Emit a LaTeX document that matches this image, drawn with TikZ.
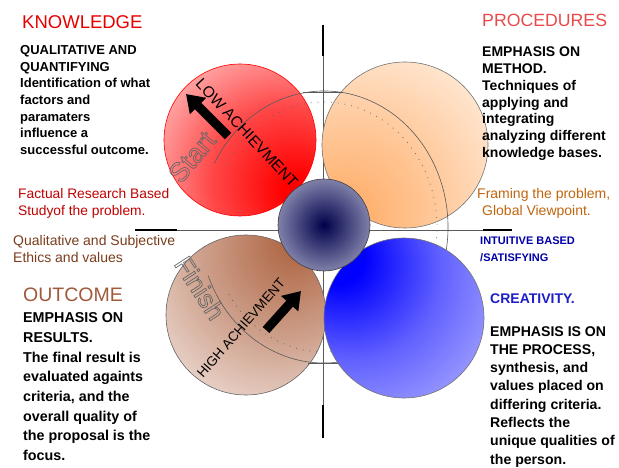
\documentclass[tikz,border=0pt]{standalone}
\usepackage{fontspec}
\setmainfont{Liberation Sans}
\usetikzlibrary{arrows.meta}

\definecolor{knowred}{HTML}{E60000}
\definecolor{procred}{HTML}{E84A4A}
\definecolor{factred}{HTML}{C00000}
\definecolor{ethicbrown}{HTML}{7A3C1C}
\definecolor{frameorange}{HTML}{C0650E}
\definecolor{intuitblue}{HTML}{0000A8}
\definecolor{outcbrown}{HTML}{A0583A}
\definecolor{creablue}{HTML}{1E1EC8}
\definecolor{peach}{HTML}{FFAE6A}
\definecolor{peachlight}{HTML}{FFF4EA}
\definecolor{clay}{HTML}{B26C4C}
\definecolor{claylight}{HTML}{F7EEEA}
\definecolor{navy}{HTML}{00004A}
\definecolor{navylight}{HTML}{CCCEE2}

\pgfdeclareradialshading{redball}{\pgfpoint{20bp}{-18bp}}{color(0bp)=(red); color(5bp)=(red); color(25bp)=(red!72); color(52bp)=(red!15); color(110bp)=(red!15)}
\pgfdeclareradialshading{peachball}{\pgfpoint{-20bp}{-24bp}}{color(0bp)=(peach); color(5bp)=(peach); color(26bp)=(peach!60!peachlight); color(54bp)=(peachlight); color(110bp)=(peachlight)}
\pgfdeclareradialshading{clayball}{\pgfpoint{16bp}{24bp}}{color(0bp)=(clay); color(5bp)=(clay); color(26bp)=(clay!60!claylight); color(54bp)=(claylight); color(110bp)=(claylight)}
\pgfdeclareradialshading{blueball}{\pgfpoint{-22bp}{20bp}}{color(0bp)=(blue); color(8bp)=(blue); color(28bp)=(blue!62); color(52bp)=(blue!30); color(110bp)=(blue!30)}
\pgfdeclareradialshading{coreball}{\pgfpoint{0bp}{0bp}}{color(0bp)=(navy); color(40bp)=(navylight); color(60bp)=(navylight)}

\newcommand{\hollow}[1]{\special{pdf:literal direct 1 Tr 0.7 w}#1\special{pdf:literal direct 0 Tr}}

\begin{document}
\begin{tikzpicture}[
    x=1pt, y=-1pt,
    ball/.style={circle, draw=#1, line width=0.6pt, inner sep=0pt, shade},
    axisline/.style={draw=gray!70!black, line width=0.6pt},
    axisend/.style={draw=black, line width=2.2pt},
    orbit/.style={draw=black!65, line width=0.6pt},
    orbitdots/.style={draw=black!60, line width=0.8pt, dash pattern=on 0.8pt off 6pt},
    bigarrow/.style={-{Triangle[width=22pt, length=17pt]}, line width=9pt, black},
    quadtitle/.style={anchor=base west, inner sep=0pt},
    blurb/.style={anchor=north west, inner sep=0pt, align=left},
]
\useasboundingbox (0,0) rectangle (619,468);

% Axes
\coordinate (axtop) at (323,25);
\coordinate (axtopin) at (323,56);
\coordinate (axbot) at (323,438);
\coordinate (axbotin) at (323,405);
\coordinate (axleft) at (135,230);
\coordinate (axleftin) at (177,230);
\coordinate (axright) at (512,230);
\coordinate (axrightin) at (483,230);
\draw[axisline] (axtop) -- (axbot);
\draw[axisline] (axleft) -- (axright);
\draw[axisend] (axtop) -- (axtopin);
\draw[axisend] (axbot) -- (axbotin);
\draw[axisend] (axleft) -- (axleftin);
\draw[axisend] (axright) -- (axrightin);

% Quadrant balls
\node[ball=red, shading=redball, minimum size=152pt] (know) at (240,140) {};
\node[ball=black!55, shading=peachball, minimum size=166pt] (proc) at (405,145) {};
\node[ball=black!60, shading=clayball, minimum size=160pt] (outc) at (246,315) {};

% Achievement orbit
\coordinate (hub) at (324,227);
\draw[orbit] (hub) ++(-152:124 and 136) arc[start angle=-152, end angle=159, x radius=124, y radius=136];
\draw[orbitdots] (hub) ++(-150:113 and 125) arc[start angle=-150, end angle=150, x radius=113, y radius=125];
\coordinate (orbtop) at (303,92);
\coordinate (orbtopend) at (342,92);
\coordinate (orbbot) at (308,363);
\coordinate (orbbotend) at (342,363);
\draw[orbit] (orbtop) -- (orbtopend);
\draw[orbit] (orbbot) -- (orbbotend);

\node[ball=black!55, shading=blueball, minimum size=160pt] (crea) at (404,318) {};
\node[ball=black!75, shading=coreball, minimum size=92pt] (core) at (324,225) {};

% Start / finish
\node[rotate=-47, font=\fontsize{15.5}{15.5}\selectfont] (lowach) at (247,133) {LOW ACHIEVMENT};
\node[rotate=49, font=\fontsize{13.5}{13.5}\selectfont] (highach) at (241,328) {HIGH ACHIEVMENT};
\node[rotate=50, text=black!60, font=\fontsize{27}{27}\selectfont] (start) at (192,157) {\hollow{Start}};
\node[rotate=-57, text=black!60, font=\fontsize{26}{26}\selectfont] (finish) at (200,288) {\hollow{Finish}};
\coordinate (lowtail) at (228,136);
\coordinate (lowtip) at (186,94);
\coordinate (hightail) at (266,330);
\coordinate (hightip) at (301,291);
\draw[bigarrow] (lowtail) -- (lowtip);
\draw[bigarrow] (hightail) -- (hightip);

% Knowledge
\node[quadtitle, text=knowred, font=\fontsize{18.5}{18.5}\selectfont] (knowtitle) at (22,29) {KNOWLEDGE};
\node[blurb, font=\bfseries\fontsize{13}{16.6}\selectfont] (knowtext) at (20,45.5) {QUALITATIVE AND\\QUANTIFYING\\Identification of what\\factors and\\paramaters\\influence a\\successful outcome.};
\node[blurb, text=factred, font=\fontsize{13.8}{17}\selectfont] (factual) at (18,188) {Factual Research Based\\Studyof the problem.};

% Procedures
\node[quadtitle, text=procred, font=\fontsize{17.7}{17.7}\selectfont] (proctitle) at (482,27) {PROCEDURES};
\node[blurb, font=\bfseries\fontsize{14}{16.7}\selectfont] (proctext) at (482,47) {EMPHASIS ON\\METHOD.\\Techniques of\\applying and\\integrating\\analyzing different\\knowledge bases.};
\node[blurb, text=frameorange, font=\fontsize{14}{17}\selectfont] (framing) at (477,188) {Framing the problem,\\\hspace*{5pt}Global Viewpoint.};

% Outcome
\node[blurb, text=ethicbrown, font=\fontsize{14}{17}\selectfont] (ethics) at (13,235) {Qualitative and Subjective\\Ethics and values};
\node[quadtitle, text=outcbrown, font=\fontsize{19.5}{19.5}\selectfont] (outctitle) at (23,301) {OUTCOME};
\node[blurb, font=\bfseries\fontsize{14.3}{19.7}\selectfont] (outctext) at (23,312.5) {EMPHASIS ON\\RESULTS.\\The final result is\\evaluated againts\\criteria, and the\\overall quality of\\the proposal is the\\focus.};

% Creativity
\node[blurb, text=intuitblue, font=\bfseries\fontsize{11}{16.5}\selectfont] (intuitive) at (480,237) {INTUITIVE BASED\\/SATISFYING};
\node[quadtitle, text=creablue, font=\bfseries\fontsize{14}{14}\selectfont] (creatitle) at (490,303) {CREATIVITY.};
\node[blurb, font=\bfseries\fontsize{14.1}{18.3}\selectfont] (creatext) at (490,326) {EMPHASIS IS ON\\THE PROCESS,\\synthesis, and\\values placed on\\differing criteria.\\Reflects the\\unique qualities of\\the person.};

\end{tikzpicture}
\end{document}
